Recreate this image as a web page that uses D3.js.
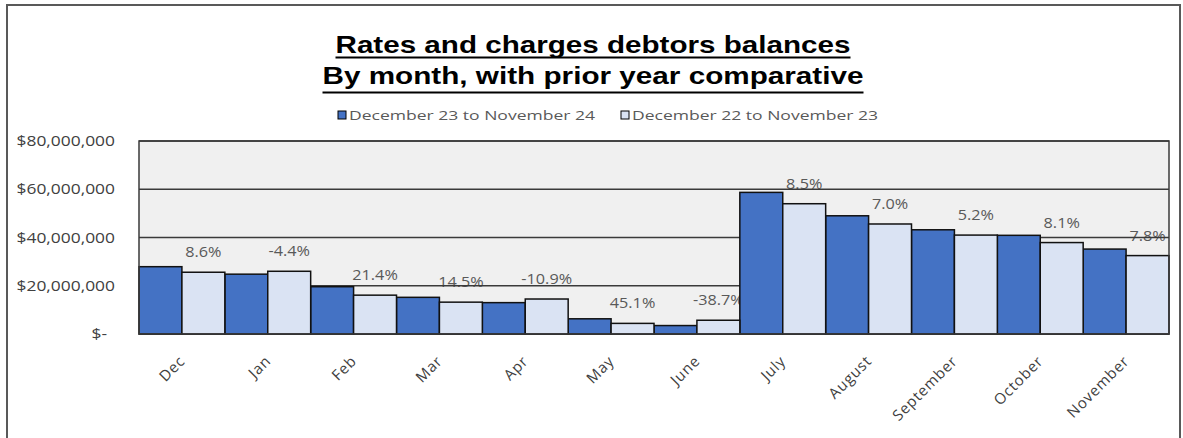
<!DOCTYPE html>
<html><head><meta charset="utf-8">
<script src="https://cdn.jsdelivr.net/npm/d3@7"></script>
<style>body{margin:0;background:#fff} svg{display:block}</style>
</head><body><svg id="c" width="1183" height="438"></svg>
<script>
const months = ["Dec","Jan","Feb","Mar","Apr","May","June","July","August","September","October","November"];
const current = [27.9e6, 24.8e6, 19.6e6, 15.2e6, 13.0e6, 6.3e6, 3.5e6, 58.7e6, 49.0e6, 43.2e6, 40.9e6, 35.2e6];
const prior   = [25.6e6, 26.0e6, 16.1e6, 13.2e6, 14.5e6, 4.4e6, 5.7e6, 54.0e6, 45.6e6, 41.0e6, 37.9e6, 32.5e6];
const changeLabels = ["8.6%","-4.4%","21.4%","14.5%","-10.9%","45.1%","-38.7%","8.5%","7.0%","5.2%","8.1%","7.8%"];
const seriesNames = ["December 23 to November 24","December 22 to November 23"];
const yTicks = [0, 20e6, 40e6, 60e6, 80e6];
const yTickLabels = ["$-","$20,000,000","$40,000,000","$60,000,000","$80,000,000"];
const titleLines = ["Rates and charges debtors balances","By month, with prior year comparative"];

const colors = ["#4472C4", "#DAE3F3"];
const svg = d3.select("#c");
const m = {left:139, right:1169, top:141, bottom:334};
const x = d3.scaleBand().domain(months).range([m.left, m.right]).paddingInner(0).paddingOuter(0);
const xs = d3.scaleBand().domain([0,1]).range([0, x.bandwidth()]);
const y = d3.scaleLinear().domain([0, 80e6]).range([m.bottom, m.top]);

// outer chart border
svg.append("rect").attr("x",7).attr("y",5).attr("width",1173).attr("height",460)
  .attr("fill","#fff").attr("stroke","#595959").attr("stroke-width",2);

// title
const tFont = "'Liberation Sans', Arial, sans-serif";
const tBase = [53, 84], uY = [57.5, 92.5], tW = [515, 541];
titleLines.forEach((t,i)=>{
  svg.append("text").attr("x",593).attr("y",tBase[i]).attr("text-anchor","middle")
    .attr("font-family",tFont).attr("font-weight","bold").attr("font-size",24).attr("fill","#000")
    .attr("textLength",tW[i]).attr("lengthAdjust","spacingAndGlyphs").text(t);
  svg.append("line").attr("x1",593-tW[i]/2).attr("x2",593+tW[i]/2).attr("y1",uY[i]).attr("y2",uY[i])
    .attr("stroke","#000").attr("stroke-width",2);
});

// legend
const lFont = "'Open Sans', sans-serif";
const legX = [338, 621];
seriesNames.forEach((s,i)=>{
  svg.append("rect").attr("x",legX[i]).attr("y",111).attr("width",8).attr("height",8)
    .attr("fill",colors[i]).attr("stroke","#000").attr("stroke-width",1);
  svg.append("text").attr("x",legX[i]+11).attr("y",120).attr("font-family",lFont).attr("font-size",12)
    .attr("textLength",246).attr("lengthAdjust","spacingAndGlyphs").attr("fill","#595959").text(s);
});

// plot background
svg.append("rect").attr("x",m.left).attr("y",m.top).attr("width",m.right-m.left).attr("height",m.bottom-m.top)
  .attr("fill","#F0F0F0");

// data labels (percentage change)
const aFont = "'Open Sans', sans-serif";
svg.append("g").selectAll("text").data(changeLabels).join("text")
  .attr("transform",(d,i)=>`translate(${x(months[i])+xs(1)+xs.bandwidth()/2},${y(prior[i])-15}) scale(1.12,1)`)
  .attr("text-anchor","middle").attr("font-family",aFont).attr("font-size",14.5)
  .attr("fill","#595959").text(d=>d);

// gridlines
svg.append("g").selectAll("line").data(yTicks).join("line")
  .attr("x1",m.left).attr("x2",m.right).attr("y1",d=>y(d)).attr("y2",d=>y(d))
  .attr("stroke","#3a3a3a").attr("stroke-width",1.5);

// bars
const series = [current, prior];
const bars = svg.append("g");
series.forEach((vals,si)=>{
  bars.selectAll(null).data(vals).join("rect")
    .attr("x",(d,i)=>x(months[i])+xs(si)).attr("width",xs.bandwidth())
    .attr("y",d=>y(d)).attr("height",d=>y(0)-y(d))
    .attr("fill",colors[si]).attr("stroke","#111").attr("stroke-width",1.5);
});

// plot border
svg.append("rect").attr("x",m.left).attr("y",m.top).attr("width",m.right-m.left).attr("height",m.bottom-m.top)
  .attr("fill","none").attr("stroke","#3a3a3a").attr("stroke-width",1.5);

// y axis
const yAxis = svg.append("g").attr("transform",`translate(${m.left},0)`)
  .call(d3.axisLeft(y).tickValues(yTicks).tickFormat((d,i)=>yTickLabels[i]).tickSize(0).tickPadding(24));
yAxis.select(".domain").remove();
yAxis.selectAll("text").attr("x",null)
  .attr("transform",d=>`translate(${d===0?-32:-24},0) scale(1.2,1)`)
  .attr("font-family",aFont).attr("font-size",14.5).attr("fill","#404040");

// x axis
const xAxis = svg.append("g").attr("transform",`translate(0,${m.bottom})`)
  .call(d3.axisBottom(x).tickSize(0));
xAxis.select(".domain").remove();
xAxis.selectAll("text").attr("y",null).attr("dy",null).attr("text-anchor","end")
  .attr("transform","translate(4,28) rotate(-45)")
  .attr("font-family",aFont).attr("font-size",15).attr("letter-spacing",0.8).attr("fill","#404040");
</script></body></html>
